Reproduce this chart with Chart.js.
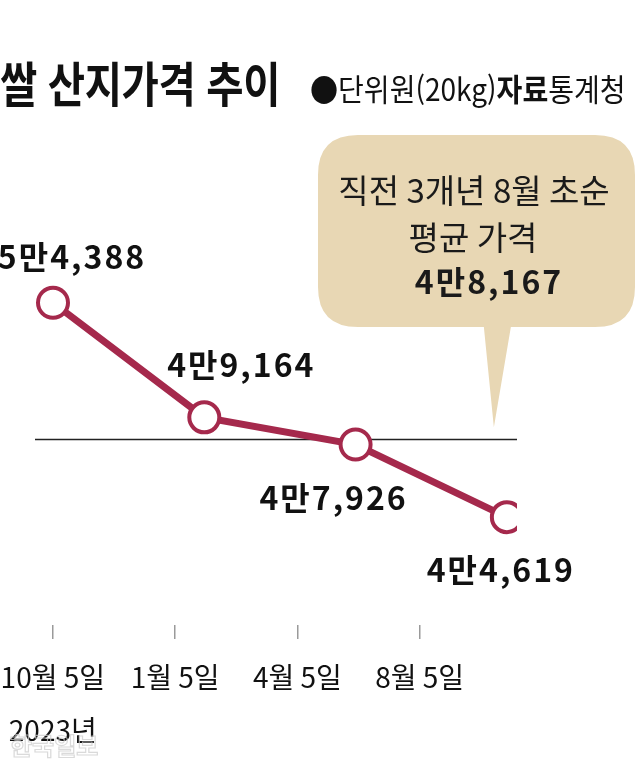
<!DOCTYPE html>
<html lang="ko">
<head>
<meta charset="utf-8">
<title>쌀 산지가격 추이</title>
<script src="https://cdn.jsdelivr.net/npm/chart.js@4/dist/chart.umd.min.js"></script>
<style>
  html, body { margin: 0; padding: 0; background: #fff; }
  #wrap { position: relative; width: 640px; height: 769px; overflow: hidden; font-family: "Noto Sans CJK KR", "Noto Sans", sans-serif; color: #111; }
  #myChart { position: absolute; left: 0; top: 0; }
  #titulo { position: absolute; left: 0; top: 57px; font-size: 48px; font-weight: 700; line-height: 1; white-space: nowrap; transform: scaleX(0.845); transform-origin: left top; letter-spacing: -0.5px; }
  #fuente { position: absolute; left: 310px; top: 72px; font-size: 31px; line-height: 1; white-space: nowrap; transform: scaleX(0.905); transform-origin: left top; }
  #fuente b { font-weight: 700; }
</style>
</head>
<body>
<div id="wrap">
  <canvas id="myChart" width="640" height="769"></canvas>
  <div id="titulo">쌀 산지가격 추이</div>
  <div id="fuente">●단위원(20kg)<b>자료</b>통계청</div>
</div>
<script>
// Datos del gráfico
const fechas = ['10월 5일', '1월 5일', '4월 5일', '8월 5일'];
const etiquetasEje = [['10월 5일', '2023년'], '1월 5일', '4월 5일', '8월 5일'];
const precios = [54388, 49164, 47926, 44619];
const precioPromedio = 48167;
const textoGlobo = ['직전 3개년 8월 초순', '평균 가격'];

const colorLinea = '#a5294c';

// 만 단위 표기
function formatoWon(v) {
    const man = Math.floor(v / 10000);
    const resto = v % 10000;
    return `${man}만${resto.toLocaleString('en-US')}`;
}

// Desplazamiento de cada etiqueta respecto a su punto
const desplazamientos = [[19, -46], [37, -53], [-22, 53], [-6, 53]];

// Línea del promedio
const lineaPromedio = {
    id: 'lineaPromedio',
    beforeDatasetsDraw(chart) {
        const { ctx, chartArea, scales } = chart;
        const y = Math.round(scales.y.getPixelForValue(precioPromedio)) + 0.5;
        ctx.save();
        ctx.strokeStyle = '#222';
        ctx.lineWidth = 1.3;
        ctx.beginPath();
        ctx.moveTo(chartArea.left, y);
        ctx.lineTo(chartArea.right, y);
        ctx.stroke();
        ctx.restore();
    }
};

// Globo con el precio promedio
const globo = {
    id: 'globo',
    beforeDatasetsDraw(chart) {
        const { ctx, scales } = chart;
        const ultimo = chart.getDatasetMeta(0).data[precios.length - 1];
        const puntaX = ultimo.x - 13;
        const puntaY = scales.y.getPixelForValue(precioPromedio) - 12;
        const izq = 318, der = 635, arriba = 135, abajo = 327, r = 40;
        ctx.save();
        ctx.fillStyle = '#e8d7b4';
        ctx.beginPath();
        ctx.moveTo(izq + r, arriba);
        ctx.lineTo(der - r, arriba);
        ctx.quadraticCurveTo(der, arriba, der, arriba + r);
        ctx.lineTo(der, abajo - r);
        ctx.quadraticCurveTo(der, abajo, der - r, abajo);
        ctx.lineTo(puntaX + 17, abajo);
        ctx.lineTo(puntaX, puntaY);
        ctx.lineTo(puntaX - 10, abajo);
        ctx.lineTo(izq + r, abajo);
        ctx.quadraticCurveTo(izq, abajo, izq, abajo - r);
        ctx.lineTo(izq, arriba + r);
        ctx.quadraticCurveTo(izq, arriba, izq + r, arriba);
        ctx.closePath();
        ctx.fill();

        ctx.fillStyle = '#1a1a1a';
        ctx.textAlign = 'center';
        ctx.textBaseline = 'middle';
        ctx.font = '400 33px "Noto Sans CJK KR"';
        ctx.fillText(textoGlobo[0], 474, 190);
        ctx.fillText(textoGlobo[1], 473, 237);
        ctx.font = '700 32px "Noto Sans CJK KR"';
        ctx.letterSpacing = '2px';
        ctx.fillText(formatoWon(precioPromedio), 489, 282);
        ctx.restore();
    }
};

// Etiquetas de valores
const etiquetasValores = {
    id: 'etiquetasValores',
    afterDatasetsDraw(chart) {
        const { ctx } = chart;
        const meta = chart.getDatasetMeta(0);
        ctx.save();
        ctx.fillStyle = '#111';
        ctx.textAlign = 'center';
        ctx.textBaseline = 'middle';
        ctx.font = '700 32px "Noto Sans CJK KR"';
        ctx.letterSpacing = '2px';
        meta.data.forEach((p, i) => {
            const [dx, dy] = desplazamientos[i];
            ctx.fillText(formatoWon(precios[i]), p.x + dx, p.y + dy);
        });
        ctx.restore();
    }
};

// Marca de agua
const marcaAgua = {
    id: 'marcaAgua',
    afterDraw(chart) {
        const { ctx } = chart;
        ctx.save();
        ctx.font = '700 24px "Noto Sans CJK KR"';
        ctx.textBaseline = 'middle';
        ctx.strokeStyle = 'rgba(205,205,205,0.75)';
        ctx.lineWidth = 1.2;
        ctx.strokeText('한국일보', 10, 746);
        ctx.restore();
    }
};

const config = {
    type: 'line',
    data: {
        labels: fechas,
        datasets: [{
            data: precios.map((v, i) => ({ x: i, y: v })),
            borderColor: colorLinea,
            borderWidth: 7,
            pointRadius: 15,
            pointHoverRadius: 15,
            pointBorderWidth: 4,
            pointBackgroundColor: '#fff',
            pointBorderColor: colorLinea,
            tension: 0
        }]
    },
    options: {
        responsive: false,
        animation: false,
        devicePixelRatio: 1,
        layout: { padding: { top: 130, left: 35, right: 123, bottom: 0 } },
        plugins: {
            legend: { display: false },
            tooltip: { enabled: false },
            title: { display: false }
        },
        scales: {
            x: { type: 'linear', display: false, min: -0.119, max: 3.067 },
            y: { display: false, min: 39705, max: 62256 },
            xFechas: {
                type: 'linear',
                axis: 'x',
                position: 'bottom',
                min: -0.1455,
                max: 3.7956,
                afterBuildTicks: (scale) => {
                    scale.ticks = etiquetasEje.map((_, i) => ({ value: i }));
                },
                afterFit: (scale) => {
                    scale.height = 144;
                    scale.paddingLeft = 0;
                    scale.paddingRight = 0;
                },
                grid: { drawOnChartArea: false, drawTicks: true, tickLength: 14, color: '#9a9a9a', lineWidth: 1.5 },
                border: { display: false },
                ticks: {
                    autoSkip: false,
                    maxRotation: 0,
                    padding: 12,
                    color: '#111',
                    font: { family: '"Noto Sans CJK KR"', size: 28, lineHeight: 1.88 },
                    callback: (value, index) => etiquetasEje[index]
                }
            }
        }
    },
    plugins: [lineaPromedio, globo, etiquetasValores, marcaAgua]
};

const myChart = new Chart(document.getElementById('myChart'), config);
</script>
</body>
</html>
